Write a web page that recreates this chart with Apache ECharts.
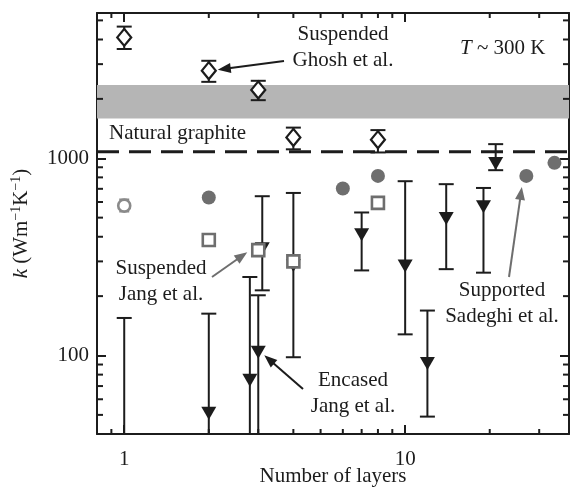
<!DOCTYPE html>
<html>
<head>
<meta charset="utf-8">
<script src="https://cdn.jsdelivr.net/npm/echarts@6/dist/echarts.min.js"></script>
<style>
  html, body { margin: 0; padding: 0; background: #fff; }
  #chart { width: 571px; height: 489px; }
</style>
</head>
<body>
<div id="chart"></div>
<script>
// Axis ranges (log scales)
const X_MIN = 0.8, X_MAX = 38.3;
const Y_MIN = 40, Y_MAX = 5450;

// Minor tick values drawn on all four sides of the frame
const xMinorTicks = [0.9, 2, 3, 4, 5, 6, 7, 8, 9, 20, 30];
const yMinorTicks = [50, 60, 70, 80, 90, 200, 300, 400, 500, 600, 700, 800, 900,
                     2000, 3000, 4000, 5000];

// Suspended, Ghosh et al.
const ghoshLayers = [1, 2, 3, 4, 8];
const ghoshK      = [4100, 2780, 2220, 1275, 1242];
const ghoshLow    = [3580, 2440, 1970, 1110, 1070];
const ghoshHigh   = [4650, 3120, 2470, 1430, 1389];

// Suspended, Jang et al.
const jangSuspLayers = [2, 3, 4, 8];
const jangSuspK      = [385, 342, 300, 594];

// Encased, Jang et al. (null: point below the plotted range)
const jangEncLayers = [1, 2, 2.8, 3, 3.1, 4, 7, 10, 12, 14, 19, 21];
const jangEncK      = [null, 51, 75, 104, 348, 286, 410, 284, 91, 495, 567, 941];
const jangEncLow    = [20, 20, 20, 20, 214, 98, 270, 128, 49, 274, 263, 870];
const jangEncHigh   = [155, 163, 250, 202, 642, 667, 531, 765, 169, 739, 707, 1179];

// Supported, Sadeghi et al.
const sadeghiLayers = [2, 6, 8, 27, 34];
const sadeghiK      = [632, 703, 814, 814, 948];

// Single-layer open circle
const singleLayers = [1];
const singleK      = [575];
const singleLow    = [537];
const singleHigh   = [618];

// Natural graphite: shaded range and dashed reference value
const graphiteBand = [1592, 2350];
const graphiteLine = 1078;

const FONT = '"Liberation Serif", "Times New Roman", serif';
const INK = '#1c1c1c';
const GRAY_MARK = '#6e6e6e';

const chart = echarts.init(document.getElementById('chart'), null, { renderer: 'canvas' });

function errorBarRenderer(color, capHalf, width) {
  return function (params, api) {
    const n = api.value(0), lo = api.value(1), hi = api.value(2);
    const top = api.coord([n, hi]);
    const bot = api.coord([n, lo]);
    const cs = params.coordSys;
    const yEdge = cs.y + cs.height;
    const x = top[0];
    const yb = Math.min(bot[1], yEdge);
    const style = { stroke: color, lineWidth: width, fill: null };
    const children = [
      { type: 'line', shape: { x1: x, y1: top[1], x2: x, y2: yb }, style: style },
      { type: 'line', shape: { x1: x - capHalf, y1: top[1], x2: x + capHalf, y2: top[1] }, style: style }
    ];
    if (bot[1] <= yEdge) {
      children.push({ type: 'line', shape: { x1: x - capHalf, y1: bot[1], x2: x + capHalf, y2: bot[1] }, style: style });
    }
    return { type: 'group', children: children };
  };
}

function zip3(a, b, c) { return a.map((v, i) => [v, b[i], c[i]]); }
function zip2(a, b) { return a.map((v, i) => [v, b[i]]).filter(p => p[1] != null); }

function powerLabel(v) {
  const l = Math.log10(v);
  return Math.abs(l - Math.round(l)) < 1e-6 ? String(Math.round(v)) : '';
}

const labelStyle = { fontFamily: FONT, fontSize: 21, color: INK };
const lineStyle = { color: INK, width: 2 };

const option = {
  animation: false,
  backgroundColor: '#fff',
  grid: { left: 97, right: 2, top: 13, bottom: 55, containLabel: false, outerBoundsMode: 'none' },
  xAxis: [
    {
      type: 'log', logBase: 10, min: X_MIN, max: X_MAX, position: 'bottom',
      axisLine: { onZero: false, lineStyle: lineStyle },
      axisTick: { inside: true, length: 9, lineStyle: lineStyle },
      axisLabel: Object.assign({ formatter: powerLabel, margin: 15 }, labelStyle),
      splitLine: { show: false },
      name: 'Number of layers', nameLocation: 'middle', nameGap: 32, nameMoveOverlap: false,
      nameTextStyle: labelStyle
    },
    {
      type: 'log', logBase: 10, min: X_MIN, max: X_MAX, position: 'top',
      axisLine: { onZero: false, lineStyle: lineStyle },
      axisTick: { inside: true, length: 9, lineStyle: lineStyle },
      axisLabel: { show: false }, splitLine: { show: false }
    }
  ],
  yAxis: [
    {
      type: 'log', logBase: 10, min: Y_MIN, max: Y_MAX, position: 'left',
      axisLine: { onZero: false, lineStyle: lineStyle },
      axisTick: { inside: true, length: 9, lineStyle: lineStyle },
      axisLabel: Object.assign({ formatter: powerLabel, margin: 8 }, labelStyle),
      splitLine: { show: false },
      name: '{i|k} (Wm{s|\u22121}K{s|\u22121})', nameLocation: 'middle', nameGap: 64, nameRotate: 90,
      nameTextStyle: {
        fontFamily: FONT, fontSize: 21, color: INK, lineHeight: 24,
        rich: {
          i: { fontFamily: FONT, fontSize: 21, fontStyle: 'italic', color: INK, lineHeight: 24 },
          s: { fontFamily: FONT, fontSize: 14, color: INK, verticalAlign: 'top', lineHeight: 24 }
        }
      }
    },
    {
      type: 'log', logBase: 10, min: Y_MIN, max: Y_MAX, position: 'right',
      axisLine: { onZero: false, lineStyle: lineStyle },
      axisTick: { inside: true, length: 9, lineStyle: lineStyle },
      axisLabel: { show: false }, splitLine: { show: false }
    }
  ],
  series: [
    {
      name: 'Natural graphite range', type: 'custom', z: 1, silent: true,
      data: [[X_MIN, graphiteBand[0], graphiteBand[1]]],
      encode: { x: 0, y: [1, 2] },
      renderItem: function (params, api) {
        const cs = params.coordSys;
        const a = api.coord([X_MIN, api.value(2)]);
        const b = api.coord([X_MIN, api.value(1)]);
        return { type: 'rect', shape: { x: cs.x, y: a[1], width: cs.width, height: b[1] - a[1] },
                 style: { fill: '#b5b5b5' } };
      }
    },
    {
      name: 'Natural graphite', type: 'custom', z: 2, silent: true,
      data: [[X_MIN, graphiteLine]],
      encode: { x: 0, y: 1 },
      renderItem: function (params, api) {
        const cs = params.coordSys;
        const p = api.coord([X_MIN, api.value(1)]);
        return { type: 'line', shape: { x1: cs.x, y1: p[1], x2: cs.x + cs.width, y2: p[1] },
                 style: { stroke: INK, lineWidth: 3, lineDash: [22, 10] } };
      }
    },
    {
      name: 'x minor ticks', type: 'custom', z: 3, silent: true, clip: false,
      data: xMinorTicks.map(v => [v, Y_MIN]),
      encode: { x: 0, y: 1 },
      renderItem: function (params, api) {
        const v = api.value(0);
        const b = api.coord([v, Y_MIN]);
        const t = api.coord([v, Y_MAX]);
        const st = { stroke: INK, lineWidth: 2 };
        return { type: 'group', children: [
          { type: 'line', shape: { x1: b[0], y1: b[1], x2: b[0], y2: b[1] - 5 }, style: st },
          { type: 'line', shape: { x1: t[0], y1: t[1], x2: t[0], y2: t[1] + 5 }, style: st }
        ] };
      }
    },
    {
      name: 'y minor ticks', type: 'custom', z: 3, silent: true, clip: false,
      data: yMinorTicks.map(v => [X_MIN, v]),
      encode: { x: 0, y: 1 },
      renderItem: function (params, api) {
        const v = api.value(1);
        const l = api.coord([X_MIN, v]);
        const r = api.coord([X_MAX, v]);
        const st = { stroke: INK, lineWidth: 2 };
        return { type: 'group', children: [
          { type: 'line', shape: { x1: l[0], y1: l[1], x2: l[0] + 6, y2: l[1] }, style: st },
          { type: 'line', shape: { x1: r[0], y1: r[1], x2: r[0] - 6, y2: r[1] }, style: st }
        ] };
      }
    },
    {
      name: 'Ghosh error', type: 'custom', z: 5,
      data: zip3(ghoshLayers, ghoshLow, ghoshHigh), encode: { x: 0, y: [1, 2] },
      renderItem: errorBarRenderer(INK, 7.5, 2)
    },
    {
      name: 'Suspended Ghosh et al.', type: 'scatter', z: 6,
      data: zip2(ghoshLayers, ghoshK),
      symbol: 'diamond', symbolSize: [14, 17],
      itemStyle: { color: '#fff', borderColor: INK, borderWidth: 2.2, opacity: 1 }
    },
    {
      name: 'Encased error', type: 'custom', z: 5,
      data: zip3(jangEncLayers, jangEncLow, jangEncHigh), encode: { x: 0, y: [1, 2] },
      renderItem: errorBarRenderer(INK, 7.5, 2)
    },
    {
      name: 'Encased Jang et al.', type: 'scatter', z: 6,
      data: zip2(jangEncLayers, jangEncK),
      symbol: 'triangle', symbolRotate: 180, symbolSize: [15, 13],
      itemStyle: { color: INK, opacity: 1 }
    },
    {
      name: 'Supported Sadeghi et al.', type: 'scatter', z: 7,
      data: zip2(sadeghiLayers, sadeghiK),
      symbol: 'circle', symbolSize: 14,
      itemStyle: { color: GRAY_MARK, opacity: 1 }
    },
    {
      name: 'Suspended Jang et al.', type: 'scatter', z: 8,
      data: zip2(jangSuspLayers, jangSuspK),
      symbol: 'rect', symbolSize: 12,
      itemStyle: { color: '#fff', borderColor: GRAY_MARK, borderWidth: 2.6, opacity: 1 }
    },
    {
      name: 'Single layer error', type: 'custom', z: 7,
      data: zip3(singleLayers, singleLow, singleHigh), encode: { x: 0, y: [1, 2] },
      renderItem: errorBarRenderer('#8a8a8a', 5, 2)
    },
    {
      name: 'Single layer', type: 'scatter', z: 8,
      data: zip2(singleLayers, singleK),
      symbol: 'circle', symbolSize: 12,
      itemStyle: { color: '#fff', borderColor: '#8a8a8a', borderWidth: 2.6, opacity: 1 }
    }
  ]
};

chart.setOption(option);

// Annotations: text blocks and arrows pointing at marks
function arrow(tail, tip, color) {
  const dx = tip[0] - tail[0], dy = tip[1] - tail[1];
  const L = Math.hypot(dx, dy), ux = dx / L, uy = dy / L;
  const hl = 13, hw = 5;
  const base = [tip[0] - ux * hl, tip[1] - uy * hl];
  const left = [base[0] - uy * hw, base[1] + ux * hw];
  const right = [base[0] + uy * hw, base[1] - ux * hw];
  return [
    { type: 'line', z: 20, shape: { x1: tail[0], y1: tail[1], x2: base[0] + ux * 2, y2: base[1] + uy * 2 },
      style: { stroke: color, lineWidth: 2 } },
    { type: 'polygon', z: 20, shape: { points: [tip, left, right] }, style: { fill: color } }
  ];
}

function at(n, k, dx, dy) {
  const p = chart.convertToPixel({ gridIndex: 0 }, [n, k]);
  return [p[0] + dx, p[1] + dy];
}

function label(text, x, y, align, extra) {
  return {
    type: 'text', z: 20, x: x, y: y,
    style: Object.assign({
      text: text, fontFamily: FONT, fontSize: 21, fill: INK, lineHeight: 26,
      align: align, verticalAlign: 'middle', textAlign: align, textVerticalAlign: 'middle'
    }, extra || {})
  };
}

const graphics = [
  label('Suspended\nGhosh et al.', 343, 47, 'center'),
  label('{i|T} ~ 300 K', 460, 48, 'left', {
    rich: { i: { fontFamily: FONT, fontSize: 21, fontStyle: 'italic', fill: INK } }
  }),
  label('Natural graphite', 109, 133, 'left'),
  label('Suspended\nJang et al.', 161, 281, 'center'),
  label('Encased\nJang et al.', 353, 393, 'center'),
  label('Supported\nSadeghi et al.', 502, 303, 'center')
]
  .concat(arrow([284, 61], at(2, 2780, 9, -1), INK))
  .concat(arrow([212, 277], at(3, 342, -11, 2), GRAY_MARK))
  .concat(arrow([303, 389], at(3, 104, 6, 3), INK))
  .concat(arrow([509, 277], at(27, 814, -4.5, 11), GRAY_MARK));

chart.setOption({ graphic: graphics });
</script>
</body>
</html>
